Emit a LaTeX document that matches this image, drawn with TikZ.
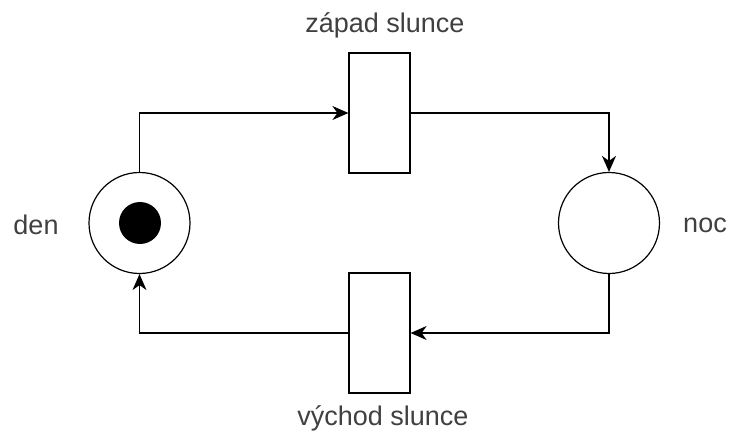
\documentclass[tikz,border=0pt]{standalone}
\usepackage{fontspec}
\setmainfont{Liberation Sans}
\usepackage{tikz}
\usetikzlibrary{arrows.meta,positioning}

\begin{document}
\begin{tikzpicture}[x=1pt,y=-1pt,>={Stealth[length=16pt,width=14pt,inset=5pt]},font=\fontsize{27}{31}\selectfont]
\tikzset{
place/.style={draw,circle,line width=1.2pt,minimum size=101pt,inner sep=0pt},
token/.style={circle,fill=black,minimum size=42pt,inner sep=0pt},
trans/.style={draw,rectangle,line width=1.2pt,minimum width=61pt,minimum height=120pt,inner sep=0pt},
lab/.style={inner sep=0pt,text=black!75},
a/.style={->,line width=1.2pt}}

\useasboundingbox (0,0) rectangle (729,439);

\node[place] (den) at (139.5,223) {};
\node[token] (tok) at (140,223) {};
\node[place] (noc) at (609,223) {};
\node[trans] (zapad) at (379.5,113) {};
\node[trans] (vychod) at (379.5,333) {};

\node[lab] (denlab) at (36,225) {den};
\node[lab] (noclab) at (705,225) {noc};
\node[lab] (zapadlab) at (385,25) {západ slunce};
\node[lab] (vychodlab) at (383,418) {východ slunce};

\draw[a] (den.north) |- (zapad.west);
\draw[a] (zapad.east) -| (noc.north);
\draw[a] (noc.south) |- (vychod.east);
\draw[a] (vychod.west) -| (den.south);
\end{tikzpicture}
\end{document}
